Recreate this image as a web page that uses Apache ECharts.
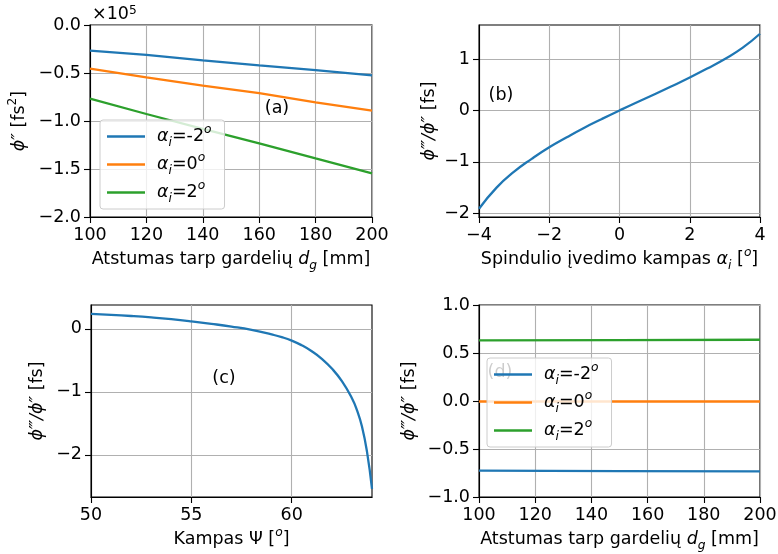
<!DOCTYPE html>
<html>
<head>
<meta charset="utf-8">
<script src="https://cdn.jsdelivr.net/npm/echarts@6/dist/echarts.min.js"></script>
<style>
html, body { margin: 0; padding: 0; background: #fff; }
#chart { width: 778px; height: 554px; }
</style>
</head>
<body>
<div id="chart"></div>
<script>
// ---- (a) GDD versus grating separation, fs^2 ----
const sepA = [100, 120, 140, 160, 180, 200];
const gddM2 = [-26700, -31200, -36800, -42000, -47000, -52400];
const gddZero = [-45500, -54500, -63200, -71000, -80600, -89300];
const gddP2 = [-76800, -92700, -108300, -123300, -139000, -154500];
const ticksAx = [100, 120, 140, 160, 180, 200];
const ticksAy = [-200000, -150000, -100000, -50000, 0];

// ---- (b) TOD/GDD versus incidence angle ----
const angleB = [-4, -3.5, -3, -2.5, -2, -1.5, -1, -0.5, 0, 0.5, 1, 1.5, 2, 2.5, 3, 3.5, 4];
const ratioB = [-1.91, -1.50, -1.19, -0.94, -0.715, -0.52, -0.335, -0.165, 0, 0.16, 0.315, 0.475, 0.64, 0.815, 1.0, 1.215, 1.49];
const ticksBx = [-4, -2, 0, 2, 4];
const ticksBy = [-2, -1, 0, 1];

// ---- (c) TOD/GDD versus angle Psi ----
const psiC = [50, 51, 52, 53, 54, 55, 56, 57, 58, 59, 59.5, 60, 60.5, 61, 61.5, 62, 62.5, 63, 63.25, 63.5, 63.75, 64];
const ratioC = [0.24, 0.224, 0.205, 0.182, 0.154, 0.12, 0.081, 0.037, -0.016, -0.088, -0.13, -0.185, -0.26, -0.355, -0.475, -0.63, -0.83, -1.10, -1.29, -1.55, -1.95, -2.54];
const ticksCx = [50, 55, 60];
const ticksCy = [-2, -1, 0];

// ---- (d) TOD/GDD versus grating separation ----
const sepD = [100, 150, 200];
const ratioDM2 = [-0.726, -0.730, -0.733];
const ratioDZero = [-0.005, -0.005, -0.005];
const ratioDP2 = [0.632, 0.635, 0.638];
const ticksDx = [100, 120, 140, 160, 180, 200];
const ticksDy = [-1, -0.5, 0, 0.5, 1];

// incidence angles of the three curves in (a) and (d)
const alphas = ['-2', '0', '2'];
const colors = ['#1f77b4', '#ff7f0e', '#2ca02c'];

const FONT = "'DejaVu Sans', sans-serif";
const FS = 17.5;
const FSS = 12.25;

const richStyles = {
  t: { fontFamily: FONT, fontSize: FS, color: '#000', lineHeight: 24 },
  m: { fontFamily: FONT, fontSize: FS, color: '#000', fontStyle: 'italic', lineHeight: 24 },
  lm: { fontFamily: FONT, fontSize: FS, color: '#000', fontStyle: 'italic', lineHeight: 24, padding: [0, 0, 0, 7] },
  s: { fontFamily: FONT, fontSize: FSS, color: '#000', fontStyle: 'italic', lineHeight: 25, verticalAlign: 'bottom' },
  p: { fontFamily: FONT, fontSize: FSS, color: '#000', fontStyle: 'italic', lineHeight: 12, verticalAlign: 'top' },
  pn: { fontFamily: FONT, fontSize: FSS, color: '#000', lineHeight: 12, verticalAlign: 'top' }
};

const minus = s => String(s).replace('-', '\u2212');
const seriesName = a => '\u03b1=' + a;
function legendText(name) {
  const a = name.split('=')[1];
  return '{lm|\u03b1}{s|i}{t|=' + a + '}{p|o}';
}

function axis(extra) {
  return Object.assign({
    type: 'value',
    nameLocation: 'middle',
    nameTextStyle: { fontFamily: FONT, fontSize: FS, color: '#000', rich: richStyles },
    axisLine: { show: true, onZero: false, lineStyle: { color: '#000', width: 1.1 } },
    axisTick: { show: true, inside: false, length: 6, lineStyle: { color: '#000', width: 1.1 } },
    axisLabel: { color: '#000', fontFamily: FONT, fontSize: FS, margin: 9, showMinLabel: true, showMaxLabel: true },
    splitLine: { show: true, lineStyle: { color: '#b0b0b0', width: 1.1 } }
  }, extra);
}
function withTicks(ax, values, fmt) {
  ax.axisTick.customValues = values;
  ax.axisLabel.customValues = values;
  ax.axisLabel.formatter = fmt;
  return ax;
}
const fmtInt = v => minus(Math.round(v));
const fmt1 = v => minus((Math.abs(v) < 1e-9 ? 0 : v).toFixed(1));
const fmtE5 = v => minus((Math.abs(v) < 1e-9 ? 0 : v / 1e5).toFixed(1));

const zip = (xs, ys) => xs.map((x, i) => [x, ys[i]]);

function line(xi, data, color, name, smooth) {
  return {
    type: 'line', name: name, xAxisIndex: xi, yAxisIndex: xi,
    data: data, showSymbol: false, symbol: 'none',
    smooth: smooth ? 0.5 : false,
    lineStyle: { color: color, width: 2.3 }, itemStyle: { color: color },
    clip: true, z: 2
  };
}

const grids = [
  { left: 90, top: 25, width: 282, height: 192 },
  { left: 479, top: 25, width: 281, height: 192 },
  { left: 91, top: 305, width: 281, height: 192 },
  { left: 479, top: 305, width: 281, height: 192 }
].map(g => Object.assign(g, { show: true, borderColor: '#000', borderWidth: 1.1, backgroundColor: 'transparent', outerBoundsMode: 'none' }));

const xAxes = [
  withTicks(axis({ gridIndex: 0, min: 100, max: 200, nameGap: 30,
    name: 'Atstumas tarp gardeli\u0173 {m|d}{s|g}{t| [mm]}' }), ticksAx, fmtInt),
  withTicks(axis({ gridIndex: 1, min: -4, max: 4, nameGap: 30,
    name: 'Spindulio \u012fvedimo kampas {m|\u03b1}{s|i}{t| [}{p|o}{t|]}' }), ticksBx, fmtInt),
  withTicks(axis({ gridIndex: 2, min: 50, max: 64, nameGap: 30,
    name: 'Kampas \u03a8 [{p|o}{t|]}' }), ticksCx, fmtInt),
  withTicks(axis({ gridIndex: 3, min: 100, max: 200, nameGap: 30,
    name: 'Atstumas tarp gardeli\u0173 {m|d}{s|g}{t| [mm]}' }), ticksDx, fmtInt)
];
const yAxes = [
  withTicks(axis({ gridIndex: 0, min: -200000, max: 0, nameRotate: 90, nameGap: 59,
    name: '{m|\u03d5\u2033}{t| [fs}{pn|2}{t|]}' }), ticksAy, fmtE5),
  withTicks(axis({ gridIndex: 1, min: -2.07, max: 1.66, nameRotate: 90, nameGap: 38,
    name: '{m|\u03d5\u2034/\u03d5\u2033}{t| [fs]}' }), ticksBy, fmtInt),
  withTicks(axis({ gridIndex: 2, min: -2.67, max: 0.38, nameRotate: 90, nameGap: 42,
    name: '{m|\u03d5\u2034/\u03d5\u2033}{t| [fs]}' }), ticksCy, fmtInt),
  withTicks(axis({ gridIndex: 3, min: -1, max: 1, nameRotate: 90, nameGap: 58,
    name: '{m|\u03d5\u2034/\u03d5\u2033}{t| [fs]}' }), ticksDy, fmt1)
];

const seriesA = [gddM2, gddZero, gddP2];
const seriesD = [ratioDM2, ratioDZero, ratioDP2];
const series = [];
alphas.forEach((a, i) => series.push(line(0, zip(sepA, seriesA[i]), colors[i], seriesName(a), false)));
series.push(line(1, zip(angleB, ratioB), colors[0], 'b', true));
series.push(line(2, zip(psiC, ratioC), colors[0], 'c', true));
alphas.forEach((a, i) => series.push(line(3, zip(sepD, seriesD[i]), colors[i], seriesName(a), false)));

function legendBox(left, top) {
  return {
    left: left, top: top, orient: 'vertical',
    data: alphas.map(seriesName),
    icon: 'rect', itemWidth: 38, itemHeight: 2.3, itemGap: 3,
    padding: [4, 13, 4, 7],
    backgroundColor: 'rgba(255,255,255,0.8)',
    borderColor: '#cccccc', borderWidth: 1, borderRadius: 3,
    selectedMode: false, z: 10,
    formatter: legendText,
    textStyle: { fontFamily: FONT, fontSize: FS, color: '#000', rich: richStyles }
  };
}

function panelLabel(text, x, y) {
  return {
    type: 'text', x: x, y: y, z: 3,
    style: { text: text, fontFamily: FONT, fontSize: FS, fill: '#000', textAlign: 'center', textVerticalAlign: 'middle' }
  };
}

const chart = echarts.init(document.getElementById('chart'), null, { renderer: 'canvas' });
chart.setOption({
  animation: false,
  backgroundColor: '#fff',
  grid: grids,
  xAxis: xAxes,
  yAxis: yAxes,
  legend: [legendBox(100, 120), legendBox(487, 358)],
  series: series,
  graphic: [
    panelLabel('(a)', 277, 108),
    panelLabel('(b)', 501, 95),
    panelLabel('(c)', 224, 378),
    panelLabel('(d)', 500, 372),
    {
      type: 'text', x: 92, y: 14, z: 3,
      style: {
        text: '\u00d710{e|5}', fontFamily: FONT, fontSize: FS, fill: '#000', textVerticalAlign: 'middle',
        rich: { e: { fontFamily: FONT, fontSize: FSS, verticalAlign: 'top', lineHeight: 12 } }
      }
    }
  ]
});
</script>
</body>
</html>
